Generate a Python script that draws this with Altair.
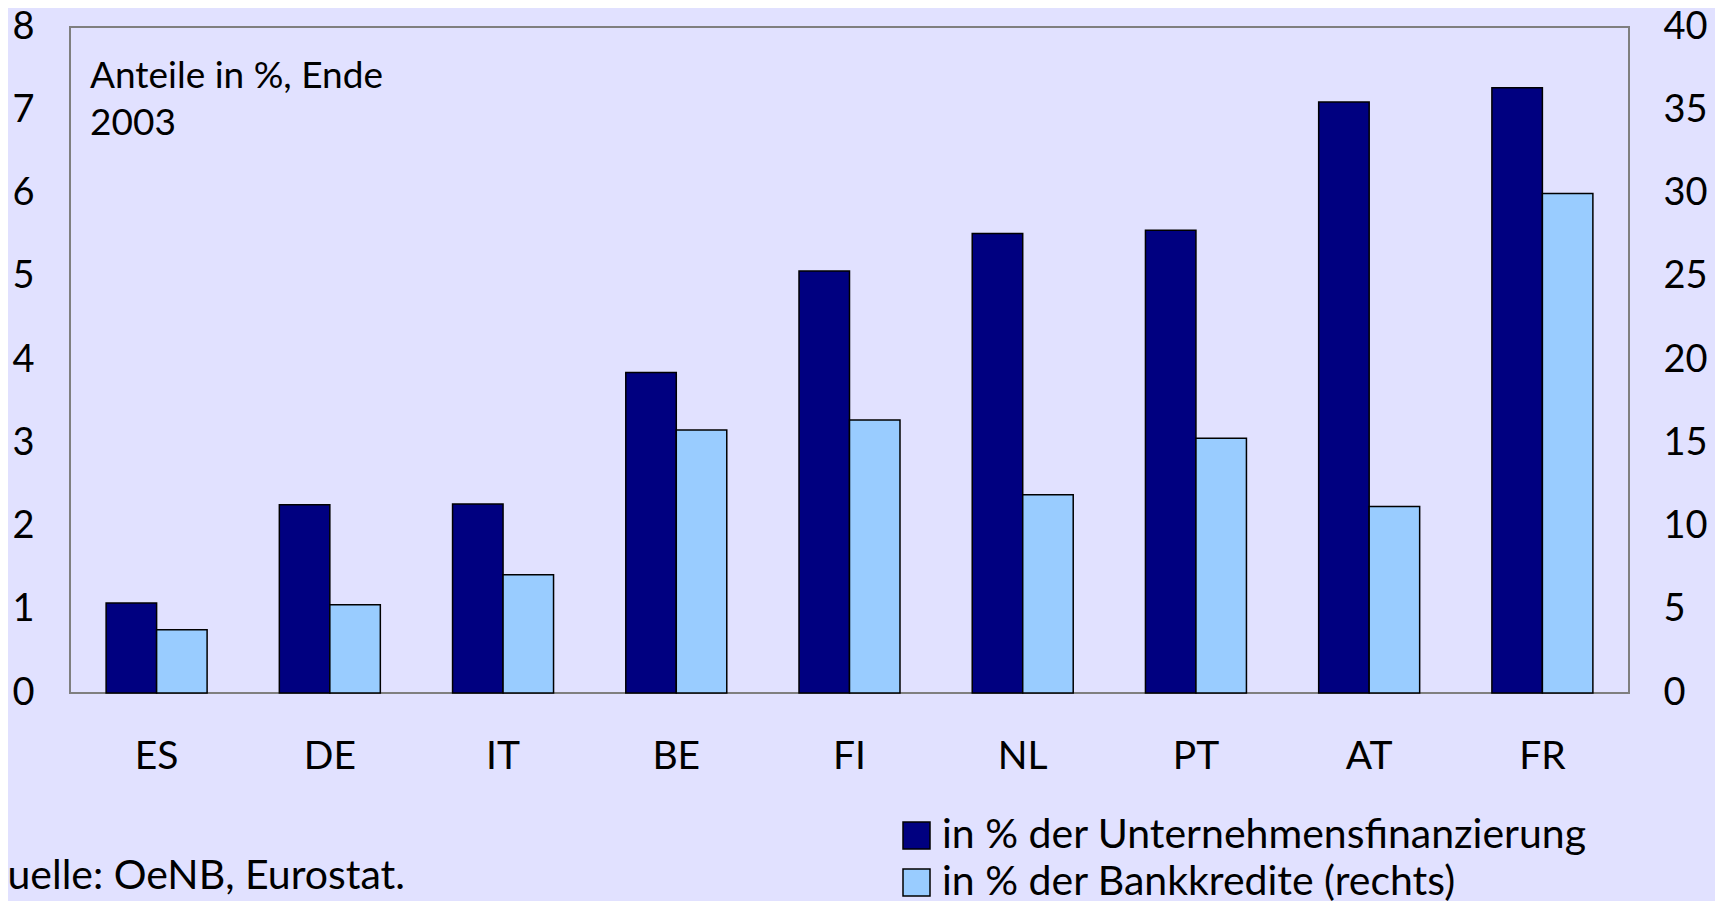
import altair as alt
import pandas as pd

countries = ["ES", "DE", "IT", "BE", "FI", "NL", "PT", "AT", "FR"]
unternehmen = [1.08, 2.26, 2.27, 3.85, 5.07, 5.52, 5.56, 7.10, 7.27]
bankkredite = [3.8, 5.3, 7.1, 15.8, 16.4, 11.9, 15.3, 11.2, 30.0]
series_names = ["in % der Unternehmensfinanzierung", "in % der Bankkredite (rechts)"]
series_colors = ["#000080", "#99CCFF"]
left_ticks = [0, 1, 2, 3, 4, 5, 6, 7, 8]
right_ticks = [0, 5, 10, 15, 20, 25, 30, 35, 40]
note_lines = ["Anteile in %, Ende", "2003"]
source_text = "Quelle: OeNB, Eurostat."

FONT = "Lato"
W, H = 1559, 666

df1 = pd.DataFrame({"land": countries, "reihe": series_names[0], "wert": unternehmen})
df2 = pd.DataFrame({"land": countries, "reihe": series_names[1], "wert": bankkredite})

x_enc = alt.X("land:N", sort=countries, title=None,
              scale=alt.Scale(paddingInner=0.417, paddingOuter=0.2085),
              axis=alt.Axis(labelAngle=0, ticks=False, domain=False, labelPadding=44,
                            labelFontSize=39, labelFont=FONT, labelColor="black"))
xo_enc = alt.XOffset("reihe:N", scale=alt.Scale(domain=series_names, paddingInner=0, paddingOuter=0))
color_enc = alt.Color("reihe:N", scale=alt.Scale(domain=series_names, range=series_colors),
                      title=None,
                      legend=alt.Legend(orient="none", legendX=826, legendY=788,
                                        symbolType="square", symbolSize=729,
                                        symbolStrokeColor="black", symbolStrokeWidth=1.5,
                                        symbolOpacity=1,
                                        labelFont=FONT, labelFontSize=41, labelColor="black",
                                        labelOffset=5, rowPadding=5, labelLimit=1000))

bars1 = alt.Chart(df1).mark_bar(stroke="black", strokeWidth=1.5, opacity=1).encode(
    x=x_enc, xOffset=xo_enc, color=color_enc,
    y=alt.Y("wert:Q", title=None, scale=alt.Scale(domain=[0, 8], nice=False),
            axis=alt.Axis(orient="left", values=left_ticks, ticks=False, domain=False, grid=False,
                          labelPadding=36, labelFontSize=38, labelFont=FONT, labelColor="black",
                          format="d")),
)
bars2 = alt.Chart(df2).mark_bar(stroke="black", strokeWidth=1.5, opacity=1).encode(
    x=x_enc, xOffset=xo_enc, color=color_enc,
    y=alt.Y("wert:Q", title=None, scale=alt.Scale(domain=[0, 40], nice=False),
            axis=alt.Axis(orient="right", values=right_ticks, ticks=False, domain=False, grid=False,
                          labelPadding=34, labelFontSize=38, labelFont=FONT, labelColor="black",
                          format="d")),
)

note1 = alt.Chart(pd.DataFrame({"t": [note_lines[0]]})).mark_text(
    align="left", baseline="alphabetic", font=FONT, fontSize=37, color="black"
).encode(text="t:N", x=alt.value(20), y=alt.value(61))
note2 = alt.Chart(pd.DataFrame({"t": [note_lines[1]]})).mark_text(
    align="left", baseline="alphabetic", font=FONT, fontSize=37, color="black"
).encode(text="t:N", x=alt.value(20), y=alt.value(108))
source = alt.Chart(pd.DataFrame({"t": [source_text]})).mark_text(
    align="left", baseline="alphabetic", font=FONT, fontSize=41, color="black"
).encode(text="t:N", x=alt.value(-95), y=alt.value(862))

chart = alt.layer(bars1, bars2, note1, note2, source).resolve_scale(
    y="independent"
).properties(
    width=W, height=H,
    autosize=alt.AutoSizeParams(type="none"),
    padding={"left": 62, "top": 19, "right": 86, "bottom": 208},
    background="#E1E1FF",
).configure_view(
    stroke="#7F7F7F", strokeWidth=2, fill="#E1E1FF"
)

chart.save("out.html", embed_options={"renderer": "svg", "actions": False})
